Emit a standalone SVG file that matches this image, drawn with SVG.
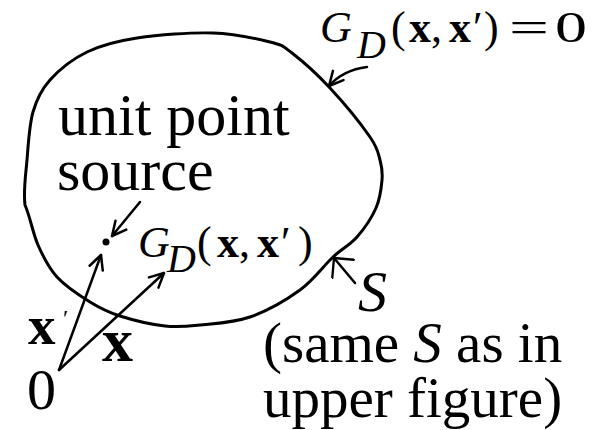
<svg xmlns="http://www.w3.org/2000/svg" width="600" height="430" viewBox="0 0 600 430">
  <style>
    text { font-family: 'Liberation Serif', serif; fill: #000; }
    .i { font-style: italic; }
    .b { font-weight: bold; }
    .ln { fill: none; stroke: #000; stroke-linecap: round; stroke-linejoin: round; }
  </style>
  <defs>
    <marker id="head" markerUnits="userSpaceOnUse" markerWidth="24" markerHeight="24" viewBox="-20 -12 24 24" refX="0" refY="0" orient="auto">
      <path d="M-14,-7 L0,0 L-14,7" fill="none" stroke="#000" stroke-width="2.5" stroke-linecap="round" stroke-linejoin="round"/>
    </marker>
    <marker id="headWide" markerUnits="userSpaceOnUse" markerWidth="30" markerHeight="30" viewBox="-24 -16 28 32" refX="0" refY="0" orient="auto">
      <path d="M-15,-15 L0,0 L-15,15" fill="none" stroke="#000" stroke-width="2.5" stroke-linecap="round" stroke-linejoin="round"/>
    </marker>
  </defs>
  <rect width="600" height="430" fill="#fff"/>

  <g id="boundary-S">
    <path class="ln" stroke-width="3" d="M25,205 C23.2,190.8 25.7,175.5 27,160 C28.3,144.5 29.2,125.3 33,112 C36.8,98.7 41,90 50,80 C59,70 72.5,59 87,52 C101.5,45 116,41.2 137,38 C158,34.8 190.8,32.3 213,33 C235.2,33.7 256.8,38.7 270,42 C283.2,45.3 282,45.3 292,53 C302,60.7 317,74 330,88 C343,102 361.7,125 370,137 C378.3,149 378,152.8 380,160 C382,167.2 382.7,172 382,180 C381.3,188 380.2,198.5 376,208 C371.8,217.5 364.2,228.8 357,237 C349.8,245.2 342.5,248.2 333,257 C323.5,265.8 313.8,280 300,290 C286.2,300 266.7,311.2 250,317 C233.3,322.8 214.2,323.5 200,325 C185.8,326.5 178.3,327.5 165,326 C151.7,324.5 132.5,320 120,316 C107.5,312 100.5,308.5 90,302 C79.5,295.5 65.7,286.5 57,277 C48.3,267.5 43.3,257 38,245 C32.7,233 30.3,217 25,205 Z"/>
  </g>

  <g id="source-point">
    <circle cx="106" cy="242" r="3.5" fill="#000"/>
  </g>

  <g id="origin">
    <text x="27" y="409" font-size="58">0</text>
  </g>

  <g id="label-boundary-condition">
    <text y="42" font-size="44"><tspan class="i" x="320">G</tspan><tspan class="i" x="357" y="58" font-size="40">D</tspan><tspan x="391" y="42">(</tspan><tspan class="b" x="409">x</tspan><tspan x="431">,</tspan><tspan class="b" x="449">x</tspan><tspan x="473">′</tspan><tspan x="484">)</tspan></text>
    <text x="509" y="42" font-size="44" textLength="40" lengthAdjust="spacingAndGlyphs">=</text>
    <text x="555" y="42" font-size="44" textLength="32" lengthAdjust="spacingAndGlyphs">0</text>
  </g>

  <g id="label-source">
    <text x="58" y="135" font-size="60">unit point</text>
    <text x="57" y="190" font-size="60">source</text>
  </g>

  <g id="label-green">
    <text y="257" font-size="44"><tspan class="i" x="138">G</tspan><tspan class="i" x="167" y="272" font-size="40">D</tspan><tspan x="197" y="257">(</tspan><tspan class="b" x="217">x</tspan><tspan x="239">,</tspan><tspan class="b" x="257">x</tspan><tspan x="281">′</tspan><tspan x="298">)</tspan></text>
  </g>

  <g id="label-S">
    <text class="i" x="358" y="311" font-size="58">S</text>
  </g>

  <g id="label-note">
    <text x="263" y="362" font-size="57">(same <tspan class="i">S</tspan> as in</text>
    <text x="263" y="417" font-size="57">upper figure)</text>
  </g>

  <g id="label-xprime">
    <text class="b" x="28" y="344" font-size="55">x<tspan font-weight="normal" x="63" y="326" font-size="24">′</tspan></text>
  </g>

  <g id="label-x">
    <text class="b" x="102" y="361" font-size="62">x</text>
  </g>

  <g id="connectors">
    <path class="ln" stroke-width="2.5" d="M59,370 L101,255" marker-end="url(#head)"/>
    <path class="ln" stroke-width="2.5" d="M59,370 L164,273" marker-end="url(#head)"/>
    <path class="ln" stroke-width="2.5" d="M140,202 L112,236" marker-end="url(#head)"/>
    <path class="ln" stroke-width="2.5" d="M367,67 Q343,70 329,86" marker-end="url(#head)"/>
    <path class="ln" stroke-width="2.5" d="M355,283 L334,258" marker-end="url(#headWide)"/>
  </g>
</svg>
